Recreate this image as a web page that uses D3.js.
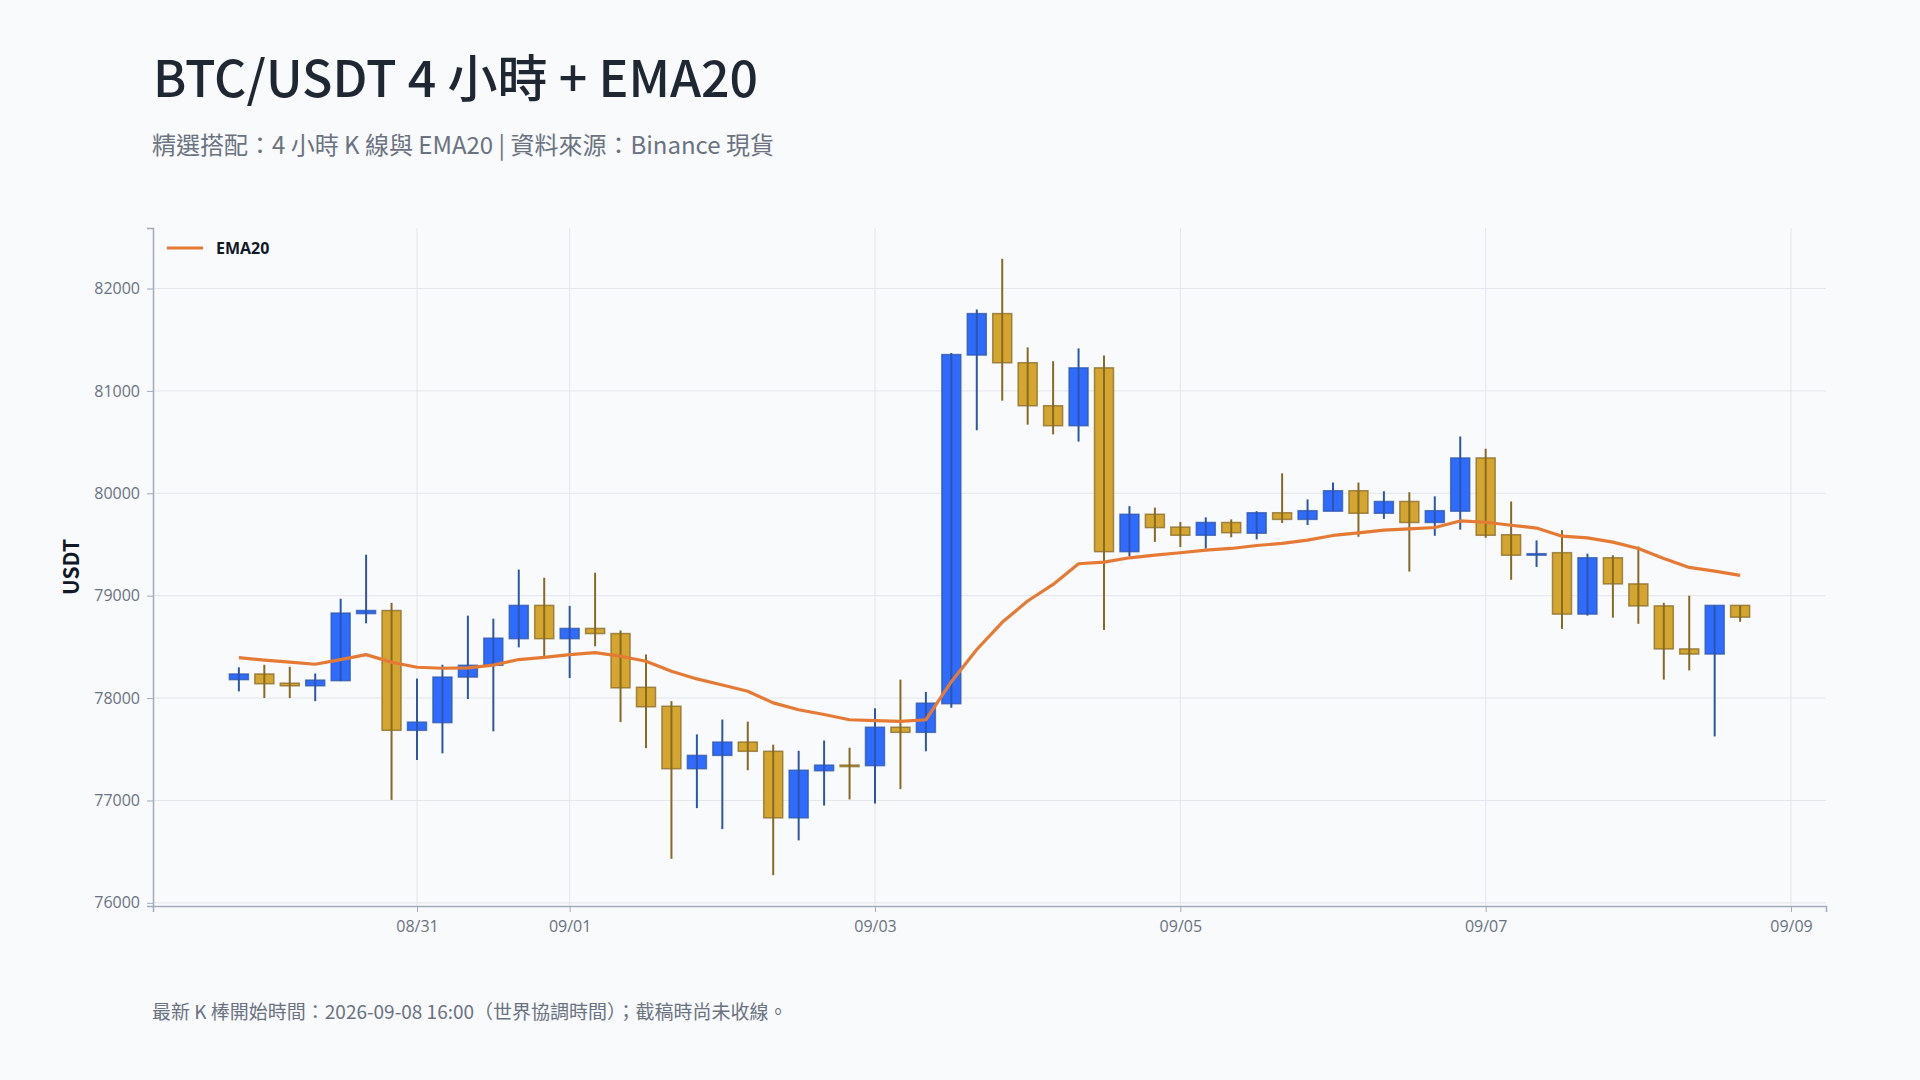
<!DOCTYPE html>
<html>
<head>
<meta charset="utf-8">
<script src="https://cdn.jsdelivr.net/npm/d3@7"></script>
<style>
  html, body { margin: 0; padding: 0; background: #f8fafc; }
  svg { display: block; }
</style>
</head>
<body>
<svg id="chart" width="1920" height="1080"></svg>
<script>
// ---- data ----
const times = [
  "2026-08-29T20:00Z","2026-08-30T00:00Z","2026-08-30T04:00Z","2026-08-30T08:00Z","2026-08-30T12:00Z","2026-08-30T16:00Z",
  "2026-08-30T20:00Z","2026-08-31T00:00Z","2026-08-31T04:00Z","2026-08-31T08:00Z","2026-08-31T12:00Z","2026-08-31T16:00Z",
  "2026-08-31T20:00Z","2026-09-01T00:00Z","2026-09-01T04:00Z","2026-09-01T08:00Z","2026-09-01T12:00Z","2026-09-01T16:00Z",
  "2026-09-01T20:00Z","2026-09-02T00:00Z","2026-09-02T04:00Z","2026-09-02T08:00Z","2026-09-02T12:00Z","2026-09-02T16:00Z",
  "2026-09-02T20:00Z","2026-09-03T00:00Z","2026-09-03T04:00Z","2026-09-03T08:00Z","2026-09-03T12:00Z","2026-09-03T16:00Z",
  "2026-09-03T20:00Z","2026-09-04T00:00Z","2026-09-04T04:00Z","2026-09-04T08:00Z","2026-09-04T12:00Z","2026-09-04T16:00Z",
  "2026-09-04T20:00Z","2026-09-05T00:00Z","2026-09-05T04:00Z","2026-09-05T08:00Z","2026-09-05T12:00Z","2026-09-05T16:00Z",
  "2026-09-05T20:00Z","2026-09-06T00:00Z","2026-09-06T04:00Z","2026-09-06T08:00Z","2026-09-06T12:00Z","2026-09-06T16:00Z",
  "2026-09-06T20:00Z","2026-09-07T00:00Z","2026-09-07T04:00Z","2026-09-07T08:00Z","2026-09-07T12:00Z","2026-09-07T16:00Z",
  "2026-09-07T20:00Z","2026-09-08T00:00Z","2026-09-08T04:00Z","2026-09-08T08:00Z","2026-09-08T12:00Z","2026-09-08T16:00Z"
];
const opens = [
  78180,78235,78145,78120,78170,78825,78855,77685,77760,78205,
  78320,78580,78905,78580,78680,78630,78105,77920,77310,77440,
  77570,77480,76830,77290,77345,77340,77715,77665,77945,81350,
  81755,81275,80855,80660,81225,79430,79795,79670,79590,79715,
  79610,79810,79745,79825,80025,79805,79920,79715,79825,80345,
  79595,79400,79420,78820,79370,79115,78900,78480,78430,78905
];
const highs = [
  78300,78325,78305,78240,78970,79400,78930,78190,78325,78805,
  78775,79255,79175,78900,79225,78660,78425,77970,77645,77790,
  77770,77545,77485,77585,77515,77900,78180,78060,81370,81795,
  82290,81425,81290,81415,81345,79875,79860,79720,79765,79745,
  79825,80195,79940,80105,80105,80020,80010,79970,80555,80435,
  79920,79540,79640,79410,79395,79480,78930,79000,78905,78905
];
const lows = [
  78065,78000,78000,77970,78165,78730,77005,77395,77460,77990,
  77675,78495,78400,78195,78505,77765,77510,76430,76925,76720,
  77295,76270,76610,76950,77010,76970,77110,77480,77905,80615,
  80905,80670,80575,80505,78665,79385,79525,79475,79460,79570,
  79550,79710,79690,79825,79575,79750,79235,79585,79645,79565,
  79155,79280,78675,78805,78785,78725,78180,78270,77625,78745
];
const closes = [
  78235,78140,78120,78175,78830,78855,77685,77765,78205,78320,
  78585,78905,78580,78680,78630,78100,77915,77310,77440,77570,
  77480,76830,77295,77345,77340,77715,77665,77950,81355,81755,
  81275,80855,80660,81225,79430,79795,79665,79590,79715,79615,
  79810,79745,79830,80025,79805,79920,79715,79830,80345,79590,
  79395,79410,78820,79370,79115,78900,78480,78430,78905,78790
];
const ema20 = [
  78395,78370,78350,78330,78376,78424,78350,78301,78291,78294,
  78322,78376,78398,78424,78444,78408,78359,78262,78187,78128,
  78067,77953,77886,77839,77788,77780,77772,77788,78160,78474,
  78740,78948,79110,79312,79328,79370,79396,79419,79445,79461,
  79490,79510,79542,79588,79614,79640,79653,79666,79730,79717,
  79688,79660,79581,79565,79523,79461,79364,79276,79240,79198
];
const yTickValues = [76000, 77000, 78000, 79000, 80000, 81000, 82000];
const titleText = "BTC/USDT 4 小時 + EMA20";
const subtitleText = "精選搭配：4 小時 K 線與 EMA20 | 資料來源：Binance 現貨";
const footerText = "最新 K 棒開始時間：2026-09-08 16:00（世界協調時間）；截稿時尚未收線。";
const yAxisLabel = "USDT";
const legendLabel = "EMA20";

// ---- layout ----
const W = 1920, H = 1080;
const plot = { left: 153, right: 1826, top: 228, bottom: 906 };
const COLORS = {
  upFill: "#2f6bff", upLine: "#2d56a8",
  downFill: "#d4a52f", downLine: "#876a26",
  ema: "#e57a35", grid: "#e3e6eb", axis: "#a3abba", tick: "#6b7280"
};
const cjk = "'Noto Sans CJK TC', 'Noto Sans', sans-serif";
const tickFont = "'Open Sans', 'DejaVu Sans', sans-serif";

const candles = times.map((t, i) => ({
  t: new Date(t), o: opens[i], h: highs[i], l: lows[i], c: closes[i], e: ema20[i]
}));

const svg = d3.select("#chart");
svg.append("rect").attr("width", W).attr("height", H).attr("fill", "#f8fafc");

const HOUR = 3600 * 1000;
const padT = 13.5 * HOUR;
const x = d3.scaleUtc()
  .domain([new Date(+candles[0].t - padT), new Date(+candles[candles.length - 1].t + padT)])
  .range([plot.left, plot.right]);

const minL = d3.min(lows), maxH = d3.max(highs);
const span = maxH - minL;
const y = d3.scaleLinear()
  .domain([minL - span * 0.05, maxH + span * 0.05])
  .range([plot.bottom, plot.top]);

const xTicks = x.ticks(d3.utcDay.every(2));

// grid
const grid = svg.append("g");
grid.selectAll("line.h").data(yTickValues).join("line")
  .attr("x1", plot.left).attr("x2", plot.right)
  .attr("y1", d => y(d)).attr("y2", d => y(d))
  .attr("stroke", COLORS.grid).attr("stroke-width", 1);
grid.selectAll("line.v").data(xTicks).join("line")
  .attr("x1", d => x(d)).attr("x2", d => x(d))
  .attr("y1", plot.top).attr("y2", plot.bottom)
  .attr("stroke", COLORS.grid).attr("stroke-width", 1);

// axes
const yAxis = svg.append("g")
  .attr("transform", `translate(${plot.left},0)`)
  .call(d3.axisLeft(y).tickValues(yTickValues).tickFormat(d3.format("d")).tickSize(6).tickPadding(7));
const xAxis = svg.append("g")
  .attr("transform", `translate(0,${plot.bottom})`)
  .call(d3.axisBottom(x).tickValues(xTicks).tickFormat(d3.utcFormat("%m/%d")).tickSize(6).tickPadding(9));
[yAxis, xAxis].forEach(g => {
  g.select(".domain").attr("stroke", COLORS.axis).attr("stroke-width", 1.5);
  g.selectAll(".tick line").attr("stroke", COLORS.axis);
  g.selectAll(".tick text").attr("fill", COLORS.tick)
    .style("font-family", tickFont).style("font-size", "16px");
});

// candles
const bodyW = 19;
const cg = svg.append("g");
const isUp = d => d.c >= d.o;
cg.selectAll("rect.body").data(candles).join("rect")
  .attr("x", d => x(d.t) - bodyW / 2)
  .attr("y", d => y(Math.max(d.o, d.c)))
  .attr("width", bodyW)
  .attr("height", d => Math.max(1.5, Math.abs(y(d.o) - y(d.c))))
  .attr("fill", d => isUp(d) ? COLORS.upFill : COLORS.downFill)
  .attr("stroke", d => isUp(d) ? COLORS.upLine : COLORS.downLine)
  .attr("stroke-opacity", 0.75)
  .attr("stroke-width", 1.5);
cg.selectAll("line.wick").data(candles).join("line")
  .attr("x1", d => x(d.t)).attr("x2", d => x(d.t))
  .attr("y1", d => y(d.h)).attr("y2", d => y(d.l))
  .attr("stroke", d => isUp(d) ? COLORS.upLine : COLORS.downLine)
  .attr("stroke-width", 2);

// EMA
svg.append("path")
  .datum(candles)
  .attr("fill", "none")
  .attr("stroke", COLORS.ema)
  .attr("stroke-width", 3.2)
  .attr("stroke-linejoin", "round")
  .attr("d", d3.line().x(d => x(d.t)).y(d => y(d.e)));

// legend
const lg = svg.append("g");
lg.append("line").attr("x1", 167).attr("x2", 203).attr("y1", 248).attr("y2", 248)
  .attr("stroke", COLORS.ema).attr("stroke-width", 3.2);
lg.append("text").attr("x", 216).attr("y", 254).text(legendLabel)
  .style("font-family", tickFont).style("font-size", "16px").style("font-weight", 700)
  .attr("fill", "#111827");

// y label
svg.append("text")
  .attr("transform", `translate(79,${(plot.top + plot.bottom) / 2}) rotate(-90)`)
  .attr("text-anchor", "middle")
  .style("font-family", cjk).style("font-size", "21px").style("font-weight", 700)
  .attr("fill", "#111827")
  .text(yAxisLabel);

// titles
svg.append("text").attr("x", 153).attr("y", 97).text(titleText)
  .style("font-family", cjk).style("font-size", "50px").style("font-weight", 500)
  .attr("fill", "#1f2733");
svg.append("text").attr("x", 152).attr("y", 154).text(subtitleText)
  .style("font-family", cjk).style("font-size", "24px")
  .attr("fill", "#6b7280");
svg.append("text").attr("x", 152).attr("y", 1019).text(footerText)
  .style("font-family", cjk).style("font-size", "19px")
  .attr("fill", "#6b7280");
</script>
</body>
</html>
